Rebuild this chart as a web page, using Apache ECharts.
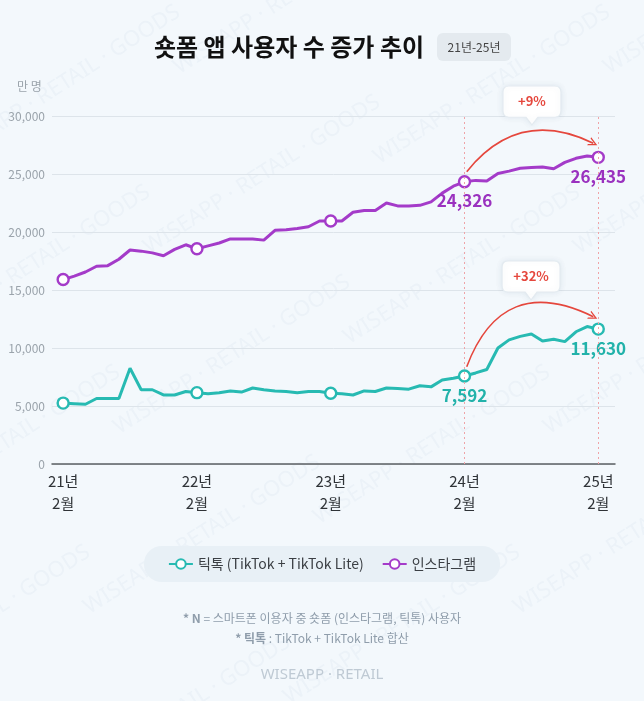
<!DOCTYPE html>
<html>
<head>
<meta charset="utf-8">
<script src="https://cdn.jsdelivr.net/npm/echarts@6/dist/echarts.min.js"></script>
<style>
    html, body { margin: 0; padding: 0; background: #f3f8fc; }
    #main { width: 644px; height: 701px; }
</style>
</head>
<body>
<div id="main"></div>
<script>
// 월별 (21년 2월 ~ 25년 2월), 단위: 만 명
var months = ['21.02','21.03','21.04','21.05','21.06','21.07','21.08','21.09','21.10','21.11','21.12',
    '22.01','22.02','22.03','22.04','22.05','22.06','22.07','22.08','22.09','22.10','22.11','22.12',
    '23.01','23.02','23.03','23.04','23.05','23.06','23.07','23.08','23.09','23.10','23.11','23.12',
    '24.01','24.02','24.03','24.04','24.05','24.06','24.07','24.08','24.09','24.10','24.11','24.12',
    '25.01','25.02'];
var tiktok = [5250, 5200, 5150, 5650, 5650, 5650, 8250, 6400, 6400, 5950, 5950, 6250, 6150,
    6050, 6150, 6300, 6200, 6550, 6400, 6300, 6250, 6150, 6250, 6250, 6100,
    6050, 5950, 6300, 6250, 6550, 6500, 6450, 6750, 6650, 7250, 7400, 7592,
    7850, 8150, 10000, 10700, 11000, 11200, 10600, 10750, 10550, 11400, 11850, 11630];
var instagram = [15900, 16200, 16550, 17050, 17100, 17650, 18450, 18350, 18200, 17950, 18500, 18900, 18550,
    18800, 19050, 19400, 19400, 19400, 19300, 20150, 20200, 20300, 20450, 20950, 20950,
    20950, 21700, 21850, 21850, 22500, 22250, 22250, 22300, 22600, 23350, 23950, 24326,
    24450, 24400, 25050, 25250, 25500, 25550, 25600, 25450, 26000, 26350, 26550, 26435];
var markIdx = [0, 12, 24, 36, 48];          // 동그라미 표시 월
var labelIdx = [36, 48];                    // 수치 라벨 표시 월
var tickLabels = {0: '21년\n2월', 12: '22년\n2월', 24: '23년\n2월', 36: '24년\n2월', 48: '25년\n2월'};
var growthTiktok = '+32%';
var growthInsta = '+9%';

var TEAL = '#27bab2';
var PURPLE = '#a43bc9';
var RED = '#e5473d';
var FONT = '"Noto Sans CJK KR", "Noto Sans", sans-serif';

var arrowHead = 'path://M0,10 L5,0 L10,10 L8.4,10 L5,3.2 L1.6,10 Z';
var bubble = 'path://M6,0 H52 Q58,0 58,6 V25 Q58,31 52,31 H35 L29,39 L23,31 H6 Q0,31 0,25 V6 Q0,0 6,0 Z';

var buildData = function (vals, color) {
    return vals.map(function (v, i) {
        var item = { value: [i, v] };
        if (markIdx.indexOf(i) < 0) item.symbol = 'none';
        if (labelIdx.indexOf(i) >= 0) {
            item.label = {
                show: true, position: 'bottom', distance: 4,
                color: color, fontSize: 17, fontWeight: 'bold', fontFamily: FONT,
                formatter: function (p) { return p.value[1].toLocaleString('en-US'); }
            };
        }
        return item;
    });
};

// 증가율 화살표 (곡선)
var arrowSeries = function (from, to, curve) {
    return {
        type: 'lines',
        coordinateSystem: 'cartesian2d',
        silent: true, z: 4,
        symbol: ['none', arrowHead], symbolSize: 9,
        lineStyle: { color: RED, width: 1.6, opacity: 1, curveness: curve },
        itemStyle: { color: RED },
        data: [{ coords: [from, to] }]
    };
};

var bubblePoint = function (coord, text) {
    return {
        coord: coord,
        symbol: bubble, symbolSize: [58, 39], symbolOffset: [0, '-50%'],
        itemStyle: { color: '#ffffff', borderColor: '#e3eaf0', borderWidth: 1, shadowBlur: 6, shadowColor: 'rgba(60,90,120,0.10)' },
        label: {
            show: true, position: 'inside', offset: [0, -4], formatter: text,
            color: RED, fontSize: 13, fontWeight: 'bold', fontFamily: FONT
        }
    };
};

var dotted = { color: '#efa4a8', width: 1, type: [2, 3] };

// 배경 워터마크
var watermarks = [];
[[-60, 150], [170, 60], [400, -30], [-90, 330], [140, 240], [370, 150], [600, 60],
 [-120, 510], [110, 420], [340, 330], [570, 240], [-150, 690], [80, 600], [310, 510], [540, 420],
 [50, 780], [280, 690], [510, 600]].forEach(function (p) {
    watermarks.push({
        type: 'text', x: p[0], y: p[1], rotation: Math.PI / 5.5, silent: true, z: -10,
        style: { text: 'WISEAPP · RETAIL · GOODS', fontSize: 22, fill: 'rgba(150,175,200,0.08)', fontFamily: '"Noto Sans", sans-serif' }
    });
});

var mainChart = echarts.init(document.getElementById('main'), null, { renderer: 'canvas' });

var option = {
    backgroundColor: '#f3f8fc',
    animation: false,
    textStyle: { fontFamily: FONT },
    grid: { left: 52, right: 29, top: 116, bottom: 237 },
    graphic: watermarks.concat([
        {
            type: 'text', x: 289, y: 47,
            style: { text: '숏폼 앱 사용자 수 증가 추이', align: 'center', verticalAlign: 'middle',
                fontSize: 24, fontWeight: 'bold', fill: '#111', fontFamily: FONT }
        },
        {
            type: 'rect', x: 437, y: 33,
            shape: { width: 74, height: 28, r: 6 },
            style: { fill: '#e4eaef' }
        },
        {
            type: 'text', x: 474, y: 47,
            style: { text: '21년-25년', align: 'center', verticalAlign: 'middle', fontSize: 12, fill: '#444', fontFamily: FONT }
        },
        {
            type: 'text', x: 17, y: 80,
            style: { text: '만 명', fontSize: 12, fill: '#9aa3ab', fontFamily: FONT }
        },
        {
            type: 'text', left: 'center', top: 612,
            style: {
                text: '{b|* N} = 스마트폰 이용자 중 숏폼 (인스타그램, 틱톡) 사용자',
                fontSize: 12, fill: '#8f9dab', fontFamily: FONT,
                rich: { b: { fontSize: 12, fontWeight: 'bold', fill: '#8f9dab', fontFamily: FONT } }
            }
        },
        {
            type: 'text', left: 'center', top: 632,
            style: {
                text: '{b|* 틱톡} : TikTok + TikTok Lite 합산',
                fontSize: 12, fill: '#8f9dab', fontFamily: FONT,
                rich: { b: { fontSize: 12, fontWeight: 'bold', fill: '#8f9dab', fontFamily: FONT } }
            }
        },
        {
            type: 'text', left: 'center', top: 667,
            style: { text: 'WISEAPP · RETAIL', fontSize: 15, fill: '#bfcad4', fontFamily: '"Noto Sans", sans-serif' }
        }
    ]),
    legend: {
        left: 'center', top: 546,
        backgroundColor: '#e8f0f6', borderRadius: 22, padding: [11, 24],
        itemGap: 18, itemWidth: 24, itemHeight: 12,
        textStyle: { fontSize: 14, color: '#3b3f44', fontFamily: FONT },
        data: ['틱톡 (TikTok + TikTok Lite)', '인스타그램']
    },
    xAxis: {
        type: 'value', min: -1, max: 49.5, interval: 1,
        splitLine: { show: false },
        axisTick: { show: false },
        axisLine: { show: true, onZero: false, lineStyle: { color: '#5b5f63', width: 1.5 } },
        axisLabel: {
            margin: 6, fontSize: 15, lineHeight: 22, color: '#2f3337', fontFamily: FONT,
            showMinLabel: true, showMaxLabel: true,
            formatter: function (v) { return tickLabels[v] || ''; }
        }
    },
    yAxis: {
        type: 'value', min: 0, max: 30000, interval: 5000,
        axisLine: { show: false },
        axisTick: { show: false },
        splitLine: { lineStyle: { color: '#dde4ea', width: 1 } },
        axisLabel: {
            margin: 7, fontSize: 12, color: '#9aa3ab', fontFamily: FONT,
            formatter: function (v) { return v.toLocaleString('en-US'); }
        }
    },
    series: [
        {
            name: '틱톡 (TikTok + TikTok Lite)',
            type: 'line',
            data: buildData(tiktok, '#22b2aa'),
            symbol: 'circle', symbolSize: 11,
            lineStyle: { color: TEAL, width: 3 },
            itemStyle: { color: '#ffffff', borderColor: TEAL, borderWidth: 2.4 },
            emphasis: { disabled: true },
            z: 3,
            markPoint: {
                silent: true, animation: false,
                data: [bubblePoint([41.97, 14140], growthTiktok)]
            }
        },
        {
            name: '인스타그램',
            type: 'line',
            data: buildData(instagram, '#9a31bf'),
            symbol: 'circle', symbolSize: 11,
            lineStyle: { color: PURPLE, width: 3 },
            itemStyle: { color: '#ffffff', borderColor: PURPLE, borderWidth: 2.4 },
            emphasis: { disabled: true },
            z: 3,
            markLine: {
                silent: true, symbol: 'none', animation: false,
                label: { show: false },
                lineStyle: dotted,
                data: [{ xAxis: 36 }, { xAxis: 48 }]
            },
            markPoint: {
                silent: true, animation: false,
                data: [bubblePoint([42.05, 29220], growthInsta)]
            }
        },
        arrowSeries([36.2, 8390], [47.55, 12700], 0.55),
        arrowSeries([36.2, 25200], [47.55, 27650], 0.4)
    ]
};
mainChart.setOption(option);
</script>
</body>
</html>
